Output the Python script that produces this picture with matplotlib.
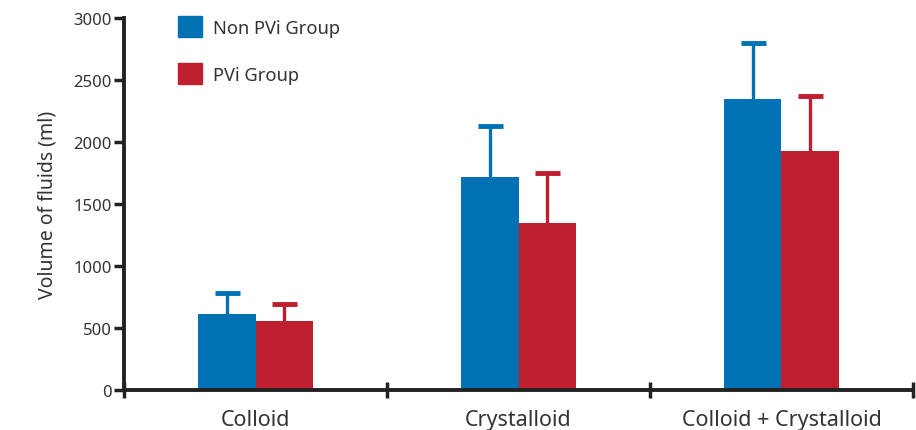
import matplotlib
matplotlib.use("Agg")
import matplotlib.pyplot as plt
import numpy as np
from matplotlib.patches import Patch

categories = ["Colloid", "Crystalloid", "Colloid + Crystalloid"]
non_pvi = [615, 1715, 2350]
non_pvi_sd = [165, 415, 450]
pvi = [555, 1345, 1930]
pvi_sd = [135, 405, 440]
yticks = [0, 500, 1000, 1500, 2000, 2500, 3000]

blue = "#0071B3"
red = "#BE1E2D"
txt = "#333333"

plt.rcParams['font.family'] = ['Noto Sans', 'DejaVu Sans']

fig = plt.figure(figsize=(9.16, 4.31), dpi=100)
ax = fig.add_axes([124/916, (431-390.7)/431, (913-124)/916, (390.7-19.3)/431])

x = np.arange(len(categories))
w = 0.22
for off, vals, sds, col in [(-w/2, non_pvi, non_pvi_sd, blue), (w/2, pvi, pvi_sd, red)]:
    xs = x + off
    vals = np.array(vals)
    tops = vals + np.array(sds)
    ax.bar(xs, vals, w, color=col, zorder=2)
    ax.vlines(xs, vals, tops, color=col, lw=2.4, zorder=1)
    ax.plot(xs, tops, ls='none', marker='_', markersize=18, mew=3.5, color=col, zorder=1)

ax.set_xlim(-0.5, 2.5)
ax.set_ylim(0, 3000)
ax.set_yticks(yticks)
ax.set_yticklabels([str(v) for v in yticks], fontsize=12, color=txt)
ax.set_xticks([-0.5, 0.5, 1.5, 2.5])
ax.set_xticklabels([])
ax.set_xticks(x, minor=True)
ax.set_xticklabels(categories, minor=True, fontsize=15.5, color=txt)
ax.tick_params(axis='x', which='minor', length=0, pad=14)
ax.tick_params(axis='x', which='major', direction='inout', length=12, width=2.5, color='#222222')
ax.tick_params(axis='y', direction='out', length=7, width=2.5, color='#222222', pad=2)

for s in ['top', 'right']:
    ax.spines[s].set_visible(False)
for s in ['left', 'bottom']:
    ax.spines[s].set_linewidth(2.8)
    ax.spines[s].set_color('#222222')
ax.spines['left'].set_zorder(3)

ax.set_ylabel("Volume of fluids (ml)", fontsize=14, color=txt, labelpad=11)

handles = [Patch(color=blue, label="Non PVi Group"), Patch(color=red, label="PVi Group")]
leg = ax.legend(handles=handles, loc='upper left', bbox_to_anchor=(0.048, 1.05),
                frameon=False, fontsize=13.2, handlelength=1.3, handleheight=1.35,
                labelspacing=1.45, handletextpad=0.6, labelcolor=txt)

fig.savefig("out.png", dpi=100)
